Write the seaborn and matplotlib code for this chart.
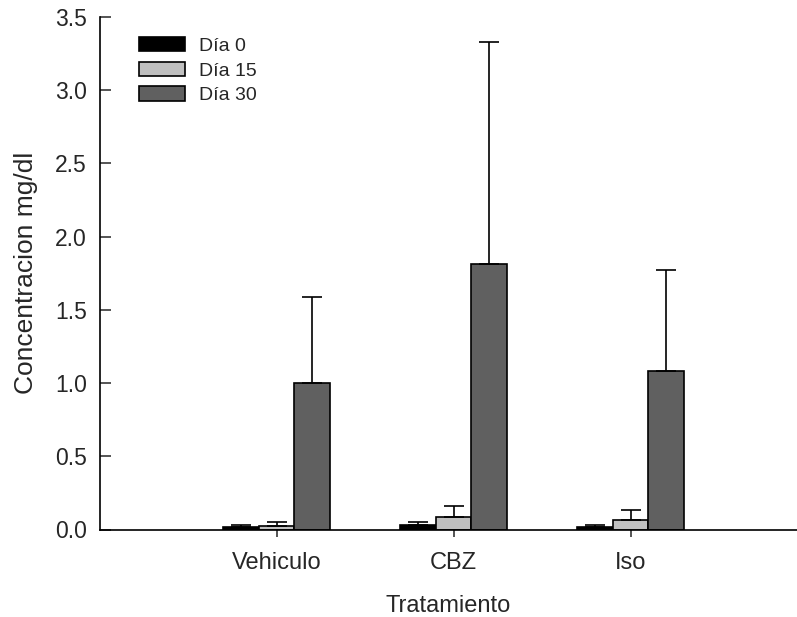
import matplotlib
matplotlib.use("Agg")
import matplotlib.pyplot as plt
import seaborn as sns
import pandas as pd
import numpy as np

treatments = ["Vehiculo", "CBZ", "Iso"]
days = ["Día 0", "Día 15", "Día 30"]
mean_dia0 = [0.015, 0.03, 0.015]
mean_dia15 = [0.027, 0.084, 0.066]
mean_dia30 = [1.00, 1.81, 1.08]
upper_dia0 = [0.034, 0.05, 0.034]
upper_dia15 = [0.05, 0.16, 0.13]
upper_dia30 = [1.59, 3.33, 1.77]
colors = ["#000000", "#c0c0c0", "#606060"]

sns.set_theme(style="ticks")
plt.rcParams["font.family"] = ["Liberation Sans", "DejaVu Sans"]

means = [mean_dia0, mean_dia15, mean_dia30]
uppers = [upper_dia0, upper_dia15, upper_dia30]
rows = []
for d, m in zip(days, means):
    for t, v in zip(treatments, m):
        rows.append({"Tratamiento": t, "Día": d, "valor": v})
df = pd.DataFrame(rows)

fig = plt.figure(figsize=(7.97, 6.17), dpi=100)
ax = fig.add_axes([99.5 / 797, 1 - 529.5 / 617, 1 - 99.5 / 797, (529.5 - 17) / 617])

sns.barplot(data=df, x="Tratamiento", y="valor", hue="Día", order=treatments,
            hue_order=days, palette=colors, width=0.6, errorbar=None,
            edgecolor="black", linewidth=1.2, saturation=1, ax=ax)

# error bars (upper only) at bar centers
for cont, m, up in zip(ax.containers, means, uppers):
    for patch, mv, uv in zip(cont.patches, m, up):
        xc = patch.get_x() + patch.get_width() / 2
        ax.errorbar([xc], [mv], yerr=[[0], [uv - mv]], fmt="none",
                    ecolor="black", elinewidth=1.2, capsize=7, capthick=1.2)

ax.set_xlim(-1.0, 2.94)
ax.set_ylim(0, 3.5)
ticks = np.arange(0, 3.51, 0.5)
ax.set_yticks(ticks)
ax.set_yticklabels([f"{v:.1f}" for v in ticks])
ax.tick_params(axis="y", direction="in", length=7.7, width=1.1, labelsize=16.5, pad=9)
ax.tick_params(axis="x", direction="out", length=5, width=1.1, labelsize=17, pad=11)
for s in ["top", "right"]:
    ax.spines[s].set_visible(False)
for s in ["left", "bottom"]:
    ax.spines[s].set_linewidth(1.2)
    ax.spines[s].set_color("black")

ax.set_xlabel("Tratamiento", fontsize=17, labelpad=15)
ax.set_ylabel("Concentracion mg/dl", fontsize=19, labelpad=12)

leg = ax.legend(loc="upper left", bbox_to_anchor=(0.031, 0.995), frameon=False,
                fontsize=14, handlelength=2.4, handleheight=0.75,
                labelspacing=0.35, handletextpad=0.7, title=None)
for h in leg.legend_handles:
    h.set_linewidth(1.2)

fig.savefig("out.png", dpi=100)
